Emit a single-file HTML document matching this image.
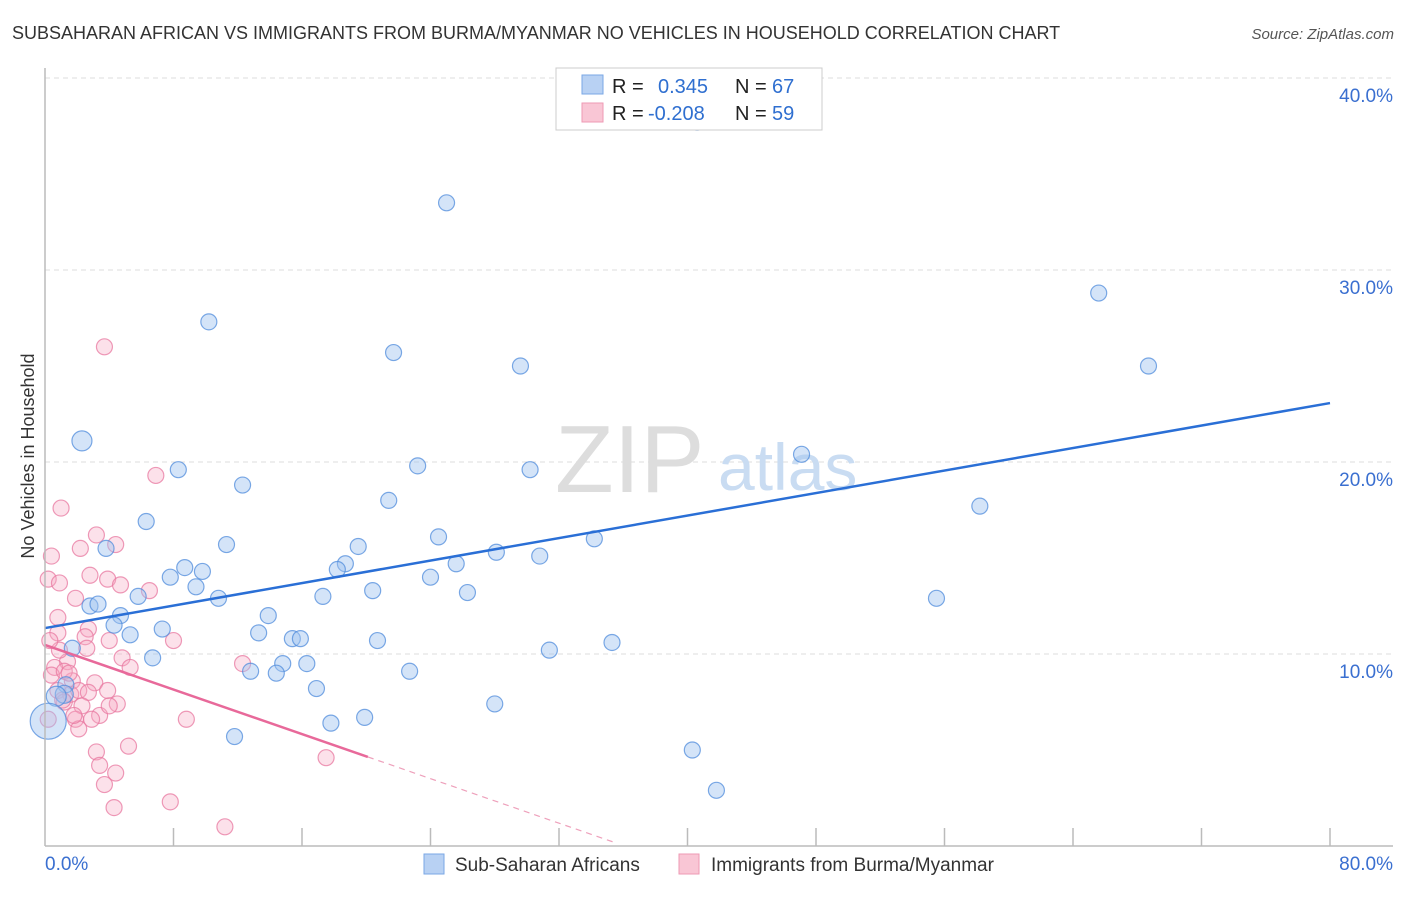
<!DOCTYPE html>
<html><head><meta charset="utf-8"><style>
body{margin:0;background:#fff;font-family:"Liberation Sans",sans-serif;}
svg text{font-family:"Liberation Sans",sans-serif;}
</style></head><body>
<svg width="1406" height="892" xmlns="http://www.w3.org/2000/svg" id="chart">
<text x="12" y="39" font-size="18" fill="#333">SUBSAHARAN AFRICAN VS IMMIGRANTS FROM BURMA/MYANMAR NO VEHICLES IN HOUSEHOLD CORRELATION CHART</text>
<text x="1394" y="39" font-size="15" fill="#555" font-style="italic" text-anchor="end">Source: ZipAtlas.com</text>
<text transform="translate(34,456) rotate(-90)" font-size="18" fill="#333" text-anchor="middle">No Vehicles in Household</text>
<g id="grid"></g>
<text x="555" y="492" font-size="96" fill="#ddd" font-family="Liberation Serif">ZIP</text>
<text x="718" y="490" font-size="66" fill="#c9dcf2">atlas</text>
<g id="pts"></g>
<g id="lines"></g>
<g id="axes"></g>
<g>
<rect x="556" y="68" width="266" height="62" fill="#fff" stroke="#ccc"/>
<rect x="582" y="75" width="21" height="19" fill="#b8d1f3" stroke="#7aa7e6"/>
<rect x="582" y="103" width="21" height="19" fill="#f9c6d5" stroke="#ee9ab4"/>
<text x="612" y="93" font-size="20" fill="#222">R =</text><text x="658" y="93" font-size="20" fill="#2f6fd0">0.345</text>
<text x="735" y="93" font-size="20" fill="#222">N =</text><text x="772" y="93" font-size="20" fill="#2f6fd0">67</text>
<text x="612" y="120" font-size="20" fill="#222">R =</text><text x="648" y="120" font-size="20" fill="#2f6fd0">-0.208</text>
<text x="735" y="120" font-size="20" fill="#222">N =</text><text x="772" y="120" font-size="20" fill="#2f6fd0">59</text>
</g>
<g>
<rect x="424" y="854" width="20" height="20" fill="#b8d1f3" stroke="#7aa7e6"/>
<text x="455" y="871" font-size="19" fill="#333">Sub-Saharan Africans</text>
<rect x="679" y="854" width="20" height="20" fill="#f9c6d5" stroke="#ee9ab4"/>
<text x="711" y="871" font-size="19" fill="#333">Immigrants from Burma/Myanmar</text>
</g>
</svg>
<script>
const blueX=[2.3,10.2,25.0,40.6,65.6,68.7,21.7,29.6,8.3,12.3,23.2,30.2,47.1,58.2,6.3,3.8,11.3,21.4,19.5,18.7,18.2,24.5,25.6,28.1,30.8,34.2,8.7,9.8,7.8,9.4,10.8,5.8,2.8,3.3,4.7,4.3,5.3,7.3,13.9,17.3,20.4,24.0,26.3,13.3,15.4,15.9,20.7,35.3,31.4,6.7,1.7,14.8,16.3,12.8,14.4,22.7,16.9,1.3,1.2,0.7,0.2,17.8,19.9,28.0,11.8,40.3,41.8,55.5];
const blueY=[21.1,27.3,33.5,37.7,28.8,25.0,25.7,25.0,19.6,18.8,19.8,19.6,20.4,17.7,16.9,15.5,15.7,18.0,15.6,14.7,14.4,16.1,14.7,15.3,15.1,16.0,14.5,14.3,14.0,13.5,12.9,13.0,12.5,12.6,12.0,11.5,11.0,11.3,12.0,13.0,13.3,14.0,13.2,11.1,10.8,10.8,10.7,10.6,10.2,9.8,10.3,9.5,9.5,9.1,9.0,9.1,8.2,8.4,7.9,7.8,6.5,6.4,6.7,7.4,5.7,5.0,2.9,12.9];
const blueR=[10,8,8,8,8,8,8,8,8,8,8,8,8,8,8,8,8,8,8,8,8,8,8,8,8,8,8,8,8,8,8,8,8,8,8,8,8,8,8,8,8,8,8,8,8,8,8,8,8,8,8,8,8,8,8,8,8,8,9,10,18,8,8,8,8,8,8,8];
const pinkX=[3.7,6.9,1.0,0.4,2.2,3.2,4.4,0.2,0.9,2.8,3.9,4.7,6.5,1.9,0.8,2.7,2.5,2.6,8.0,4.8,5.3,12.3,1.4,0.6,0.4,1.7,3.1,0.8,1.6,2.1,2.7,3.9,1.2,2.3,4.5,8.8,3.4,1.9,2.1,3.2,5.2,3.4,4.4,3.7,4.3,7.8,11.2,17.5,1.2,1.8,0.2,1.1,2.9,4.0,0.9,0.3,0.8,4.0,1.5];
const pinkY=[26.0,19.3,17.6,15.1,15.5,16.2,15.7,13.9,13.7,14.1,13.9,13.6,13.3,12.9,11.1,11.3,10.9,10.3,10.7,9.8,9.3,9.5,9.6,9.3,8.9,8.6,8.5,8.1,7.9,8.1,8.0,8.1,7.5,7.3,7.4,6.6,6.8,6.6,6.1,4.9,5.2,4.2,3.8,3.2,2.0,2.3,1.0,4.6,9.1,6.8,6.6,7.6,6.6,7.3,10.2,10.7,11.9,10.7,9.0];
const xTicks=["0.0%","80.0%"];
const yTickVals=[10,20,30,40];
const yTickLabels=["10.0%","20.0%","30.0%","40.0%"];
const blueTrend=[11.35,23.07];
const pinkTrend=[10.47,4.64];
const pinkSolidEnd=20.1, pinkDashEnd=35.4;
const NS="http://www.w3.org/2000/svg";
const X=v=>45+v/80*1285, Y=v=>846-v*19.2;
function mk(tag,attrs,parent){const e=document.createElementNS(NS,tag);for(const k in attrs)e.setAttribute(k,attrs[k]);document.getElementById(parent).appendChild(e);return e;}
yTickVals.forEach((v,i)=>{
 const g=mk('line',{x1:45,x2:1393,y1:Y(v),y2:Y(v),stroke:'#ddd','stroke-dasharray':'5,4'},'grid');
 
 
 const t=mk('text',{x:1393,y:Y(v)+24,'font-size':19,fill:'#3a6fd0','text-anchor':'end'},'grid');
 t.textContent=yTickLabels[i];
 
 
});
for(let i=1;i<=10;i++){
 const l=mk('line',{x1:X(i*8),x2:X(i*8),y1:828,y2:846,stroke:'#bbb','stroke-width':1.5},'axes');
 
 
}
let ax=mk('line',{x1:45,x2:45,y1:68,y2:846,stroke:'#bbb','stroke-width':1.5},'axes');


ax=mk('line',{x1:45,x2:1393,y1:846,y2:846,stroke:'#bbb','stroke-width':1.5},'axes');


let t=mk('text',{x:45,y:870,'font-size':19,fill:'#3a6fd0'},'axes');t.textContent=xTicks[0];


t=mk('text',{x:1393,y:870,'font-size':19,fill:'#3a6fd0','text-anchor':'end'},'axes');t.textContent=xTicks[1];


pinkX.forEach((x,i)=>{
 const c=mk('circle',{cx:X(x),cy:Y(pinkY[i]),r:8,fill:'rgba(246,170,195,0.35)',stroke:'rgba(232,120,160,0.75)','stroke-width':1.2},'pts');
 
 
});
blueX.forEach((x,i)=>{
 const c=mk('circle',{cx:X(x),cy:Y(blueY[i]),r:blueR[i],fill:'rgba(160,195,240,0.45)',stroke:'rgba(80,140,220,0.75)','stroke-width':1.2},'pts');
 
 
});
let l=mk('line',{x1:X(0),y1:Y(blueTrend[0]),x2:X(80),y2:Y(blueTrend[1]),stroke:'#2a6fd6','stroke-width':2.5},'lines');


const py=x=>pinkTrend[0]+(pinkTrend[1]-pinkTrend[0])*x/pinkSolidEnd;
l=mk('line',{x1:X(0),y1:Y(py(0)),x2:X(pinkSolidEnd),y2:Y(py(pinkSolidEnd)),stroke:'#e8699a','stroke-width':2.5},'lines');


l=mk('line',{x1:X(pinkSolidEnd),y1:Y(py(pinkSolidEnd)),x2:X(pinkDashEnd),y2:Y(py(pinkDashEnd)),stroke:'#eea0bb','stroke-width':1.2,'stroke-dasharray':'6,5'},'lines');


</script>
</body></html>
